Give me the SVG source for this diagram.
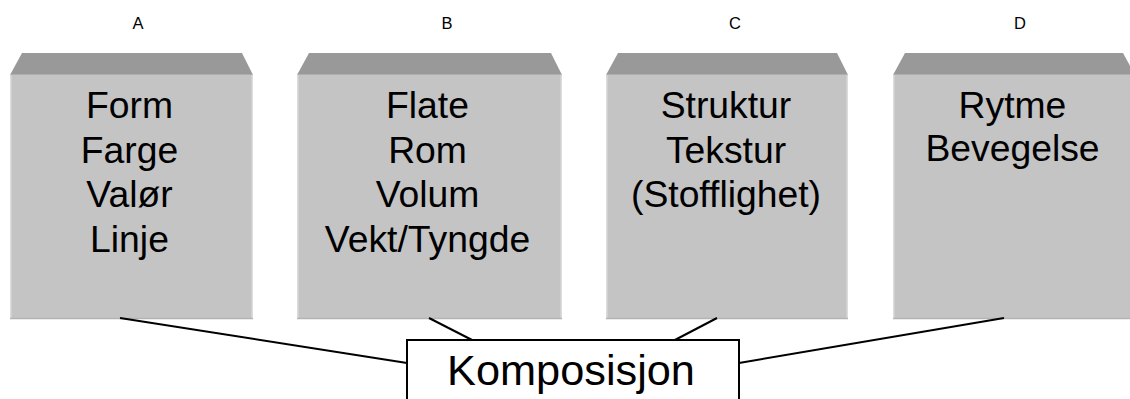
<svg xmlns="http://www.w3.org/2000/svg" width="1130" height="399" viewBox="0 0 1130 399">
<style>
.top{fill:#999999}
.front{fill:#c4c4c4}
.edge{stroke:#dcdcdc;stroke-width:1.5}
.bot{stroke:#b4b4b4;stroke-width:1.5}
.lbl{font-family:"Liberation Sans",Arial,sans-serif;font-size:16.5px;fill:#000;text-anchor:middle}
.t{font-family:"Liberation Sans",Arial,sans-serif;font-size:37.3px;fill:#000;text-anchor:middle}
.k{font-family:"Liberation Sans",Arial,sans-serif;font-size:43.3px;fill:#000;text-anchor:middle}
.conn line{stroke:#000;stroke-width:2}
</style>
<rect width="1130" height="399" fill="#fff"/>
<g id="labels">
<text class="lbl" x="138" y="29">A</text>
<text class="lbl" x="447" y="29">B</text>
<text class="lbl" x="735" y="29">C</text>
<text class="lbl" x="1020" y="29">D</text>
</g>
<g id="nodeA">
<polygon class="top" points="10,75 22,53 242,53 253,75"/>
<rect class="front" x="10" y="74.5" width="243" height="244.5"/>
<line class="edge" x1="10.75" y1="75" x2="10.75" y2="319"/>
<line class="edge" x1="252.25" y1="75" x2="252.25" y2="319"/>
<line class="bot" x1="10" y1="318.5" x2="253" y2="318.5"/>
<text class="t"><tspan x="129.5" y="118">Form</tspan><tspan x="129.5" y="162.7">Farge</tspan><tspan x="129.5" y="207.4">Valør</tspan><tspan x="129.5" y="252.1">Linje</tspan></text>
</g>
<g id="nodeB">
<polygon class="top" points="297,75 309,53 551,53 562,75"/>
<rect class="front" x="297" y="74.5" width="265" height="244.5"/>
<line class="edge" x1="297.75" y1="75" x2="297.75" y2="319"/>
<line class="edge" x1="561.25" y1="75" x2="561.25" y2="319"/>
<line class="bot" x1="297" y1="318.5" x2="562" y2="318.5"/>
<text class="t"><tspan x="427.5" y="118">Flate</tspan><tspan x="427.5" y="162.7">Rom</tspan><tspan x="427.5" y="207.4">Volum</tspan><tspan x="427.5" y="252.1">Vekt/Tyngde</tspan></text>
</g>
<g id="nodeC">
<polygon class="top" points="606,75 618,53 837,53 848,75"/>
<rect class="front" x="606" y="74.5" width="242" height="244.5"/>
<line class="edge" x1="606.75" y1="75" x2="606.75" y2="319"/>
<line class="edge" x1="847.25" y1="75" x2="847.25" y2="319"/>
<line class="bot" x1="606" y1="318.5" x2="848" y2="318.5"/>
<text class="t"><tspan x="726" y="118">Struktur</tspan><tspan x="726" y="162.7">Tekstur</tspan><tspan x="726" y="207.4">(Stofflighet)</tspan></text>
</g>
<g id="nodeD">
<polygon class="top" points="893,75 905,53 1123,53 1135,75"/>
<rect class="front" x="893" y="74.5" width="243" height="244.5"/>
<line class="edge" x1="893.75" y1="75" x2="893.75" y2="319"/>
<line class="bot" x1="893" y1="318.5" x2="1136" y2="318.5"/>
<text class="t"><tspan x="1012.5" y="118">Rytme</tspan><tspan x="1012.5" y="161">Bevegelse</tspan></text>
</g>
<g id="connectors" class="conn">
<line x1="120" y1="318" x2="407" y2="363"/>
<line x1="429" y1="318" x2="474" y2="341"/>
<line x1="717" y1="318" x2="673" y2="341"/>
<line x1="1004" y1="318" x2="739" y2="363"/>
</g>
<g id="nodeK">
<rect x="407" y="340" width="332" height="80" fill="#fff" stroke="#000" stroke-width="2"/>
<text class="k" x="571" y="385">Komposisjon</text>
</g>
</svg>
